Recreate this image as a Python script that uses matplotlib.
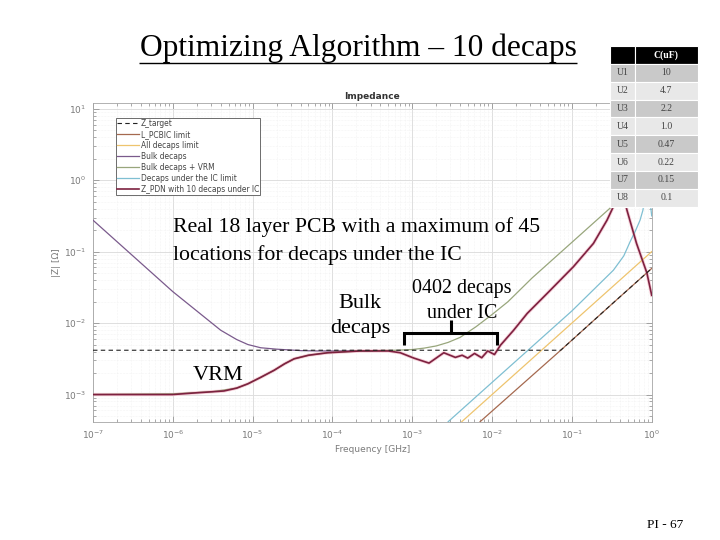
import matplotlib
matplotlib.use("Agg")
import matplotlib.pyplot as plt
import numpy as np
from matplotlib.lines import Line2D
from matplotlib.ticker import LogLocator, NullFormatter

# all curves as log10 values
target_f = [-7, -4, -2, -1.14, -0.5, 0]
target_z = [-2.38, -2.38, -2.38, -2.38, -1.735, -1.235]

l_pcbic_f = [-2.15, -1.14, -0.5, 0]
l_pcbic_z = [-3.38, -2.38, -1.735, -1.235]

all_decaps_f = [-2.38, -1.5, -0.5, 0]
all_decaps_z = [-3.38, -2.5, -1.5, -1.0]

bulk_f = [-7, -6.5, -6, -5.7, -5.4, -5.2, -5.06, -4.9, -4.7, -4.55, -4.4, -4.2, -4.0, -3.5]
bulk_z = [-0.56, -1.06, -1.56, -1.83, -2.1, -2.23, -2.30, -2.345, -2.365, -2.375, -2.385, -2.39, -2.39, -2.39]

bulk_vrm_f = [-7, -6, -5.5, -5.2, -5.06, -4.9, -4.73, -4.6, -4.48, -4.3, -4.06, -3.65, -3.2, -3.0, -2.85, -2.7, -2.55, -2.4,
              -2.2, -2.0, -1.8, -1.5, -1.0, -0.5, -0.3, -0.2]
bulk_vrm_z = [-3.0, -2.99, -2.96, -2.91, -2.85, -2.76, -2.66, -2.57, -2.5, -2.45, -2.415, -2.39, -2.38, -2.37, -2.35, -2.32, -2.27, -2.2,
              -2.05, -1.88, -1.7, -1.37, -0.87, -0.37, -0.15, 0.0]

ic_limit_f = [-2.55, -1.5, -1.0, -0.48, -0.35, -0.27, -0.2, -0.146, -0.11, -0.06, -0.03, 0]
ic_limit_z = [-3.38, -2.33, -1.83, -1.26, -1.06, -0.86, -0.7, -0.56, -0.42, -0.05, -0.2, -0.5]

pdn_f = [-7, -6, -5.76, -5.36, -5.2, -5.06, -4.9, -4.73, -4.6, -4.48, -4.3, -4.06, -3.65, -3.3, -3.15, -2.98, -2.79, -2.605, -2.46,
         -2.375, -2.305, -2.22, -2.13, -2.055, -1.97, -1.895, -1.73, -1.56, -1.31, -0.98, -0.73, -0.56, -0.48,
         -0.4, -0.31, -0.19, -0.06, 0]
pdn_z = [-3.0, -3.0, -2.98, -2.95, -2.91, -2.85, -2.76, -2.66, -2.57, -2.5, -2.45, -2.415, -2.39, -2.39, -2.415, -2.49, -2.56, -2.415, -2.48,
         -2.45, -2.49, -2.425, -2.485, -2.39, -2.44, -2.31, -2.1, -1.865, -1.585, -1.21, -0.885, -0.56, -0.37,
         0.0, -0.42, -0.885, -1.3, -1.61]

table_rows = ["U1", "U2", "U3", "U4", "U5", "U6", "U7", "U8"]
table_caps = ["10", "4.7", "2.2", "1.0", "0.47", "0.22", "0.15", "0.1"]

W, H = 720, 540
GREY = "#7a7a7a"
SERIF = "Liberation Serif"

fig = plt.figure(figsize=(7.2, 5.4), dpi=100, facecolor="white")
plt.rcParams["mathtext.default"] = "regular"

ax = fig.add_axes([93 / W, 1 - 421.7 / H, (651.7 - 93) / W, (421.7 - 103) / H])


def draw(f, z, **kwargs):
    ax.plot(10.0 ** np.array(f), 10.0 ** np.array(z), **kwargs)


draw(pdn_f, pdn_z, color="#f6cfd8", lw=2.4, zorder=2)
draw(target_f, target_z, color="#222222", ls=(0, (4, 3)), lw=0.8, label="Z_target", zorder=6)
draw(l_pcbic_f, l_pcbic_z, color="#a5694f", lw=0.9, label="L_PCBIC limit", zorder=3)
draw(all_decaps_f, all_decaps_z, color="#eec46e", lw=0.9, label="All decaps limit", zorder=3)
draw(bulk_f, bulk_z, color="#7a5a8c", lw=0.9, label="Bulk decaps", zorder=3)
draw(bulk_vrm_f, bulk_vrm_z, color="#98a67c", lw=0.9, label="Bulk decaps + VRM", zorder=3)
draw(ic_limit_f, ic_limit_z, color="#7fbfd2", lw=0.9, label="Decaps under the IC limit", zorder=3)
draw(pdn_f, pdn_z, color="#7d2140", lw=1.2, label="Z_PDN with 10 decaps under IC", zorder=5)

ax.set_xscale("log")
ax.set_yscale("log")
ax.set_xlim(1e-7, 1)
ax.set_ylim(10 ** -3.38, 10 ** 1.08)

ax.xaxis.set_major_locator(LogLocator(base=10, numticks=10))
ax.yaxis.set_major_locator(LogLocator(base=10, numticks=10))
ax.xaxis.set_minor_locator(LogLocator(base=10, subs=np.arange(2, 10) * 0.1, numticks=12))
ax.yaxis.set_minor_locator(LogLocator(base=10, subs=np.arange(2, 10) * 0.1, numticks=12))
ax.xaxis.set_minor_formatter(NullFormatter())
ax.yaxis.set_minor_formatter(NullFormatter())

ax.grid(True, which="major", color="#dedede", lw=0.7)
ax.grid(True, which="minor", color="#ebebeb", lw=0.4, ls=":")
ax.set_axisbelow(True)
ax.tick_params(which="both", direction="in", top=True, right=True, color="#888888", width=0.5)
ax.tick_params(which="major", length=4, labelsize=6.5, labelcolor=GREY, pad=5)
ax.tick_params(which="minor", length=2)
for spine in ax.spines.values():
    spine.set_color("#a5a5a5")
    spine.set_linewidth(0.6)

ax.set_title("Impedance", fontsize=6.5, fontweight="bold", color="#333333", pad=3)
ax.set_xlabel("Frequency [GHz]", fontsize=6.5, color=GREY, labelpad=3)
ax.set_ylabel("|Z| [Ω]", fontsize=6.5, color=GREY, labelpad=2)

handles, labels = ax.get_legend_handles_labels()
leg = ax.legend(handles, labels, loc="upper left", bbox_to_anchor=((115.7 - 93) / 558.7, 1 - (117.7 - 103) / 318.7),
                borderaxespad=0, fontsize=5.45, labelcolor="#444444", fancybox=False, framealpha=1,
                edgecolor="#555555", labelspacing=0.27, handlelength=2.9, handletextpad=0.25,
                borderpad=0.15)
leg.get_frame().set_linewidth(0.6)
leg.set_zorder(8)

# capacitor table on top of the chart
tax = fig.add_axes([610 / W, 1 - 206.7 / H, 87.7 / W, 160.7 / H])
tax.axis("off")
cells = [["", "C(uF)"]] + [[r, c] for r, c in zip(table_rows, table_caps)]
tbl = tax.table(cellText=cells, bbox=[0, 0, 1, 1], cellLoc="center", colWidths=[0.285, 0.715])
tbl.auto_set_font_size(False)
for (row, col), cell in tbl.get_celld().items():
    cell.set_edgecolor("white")
    cell.set_linewidth(0.8)
    cell.set_text_props(fontsize=7, family=SERIF, color="#444444")
    if row == 0:
        cell.set_facecolor("#000000")
        cell.set_text_props(color="white", fontweight="bold")
    else:
        cell.set_facecolor("#c9c9c9" if row % 2 == 1 else "#e8e8e8")


def px_text(x, y, s, **kwargs):
    fig.text(x / W, 1 - y / H, s, family=SERIF, color="black", zorder=10, **kwargs)


def px_line(xs, ys, lw):
    fig.add_artist(Line2D([x / W for x in xs], [1 - y / H for y in ys], color="black", lw=lw,
                          solid_capstyle="butt", solid_joinstyle="miter", zorder=10))


px_text(358, 48, "Optimizing Algorithm – 10 decaps", fontsize=22.7, ha="center", va="center")
px_line([139, 577], [63, 63], 1.0)

px_text(173, 241, "Real 18 layer PCB with a maximum of 45\nlocations for decaps under the IC",
        fontsize=15.7, ha="left", va="center", linespacing=1.5)
px_text(360, 316, "Bulk\ndecaps", fontsize=16, ha="center", va="center", linespacing=1.5)
px_text(462, 301, "0402 decaps\nunder IC", fontsize=14.4, ha="center", va="center", linespacing=1.36)
px_text(193, 376, "VRM", fontsize=16, ha="left", va="center")
px_text(683, 525, "PI - 67", fontsize=9.5, ha="right", va="center")

# bracket under the 0402 label
px_line([404, 404, 497, 497], [345, 333, 333, 345], 2.2)
px_line([450.7, 450.7], [333, 320], 2.2)

fig.savefig("out.png", dpi=100, facecolor="white")
